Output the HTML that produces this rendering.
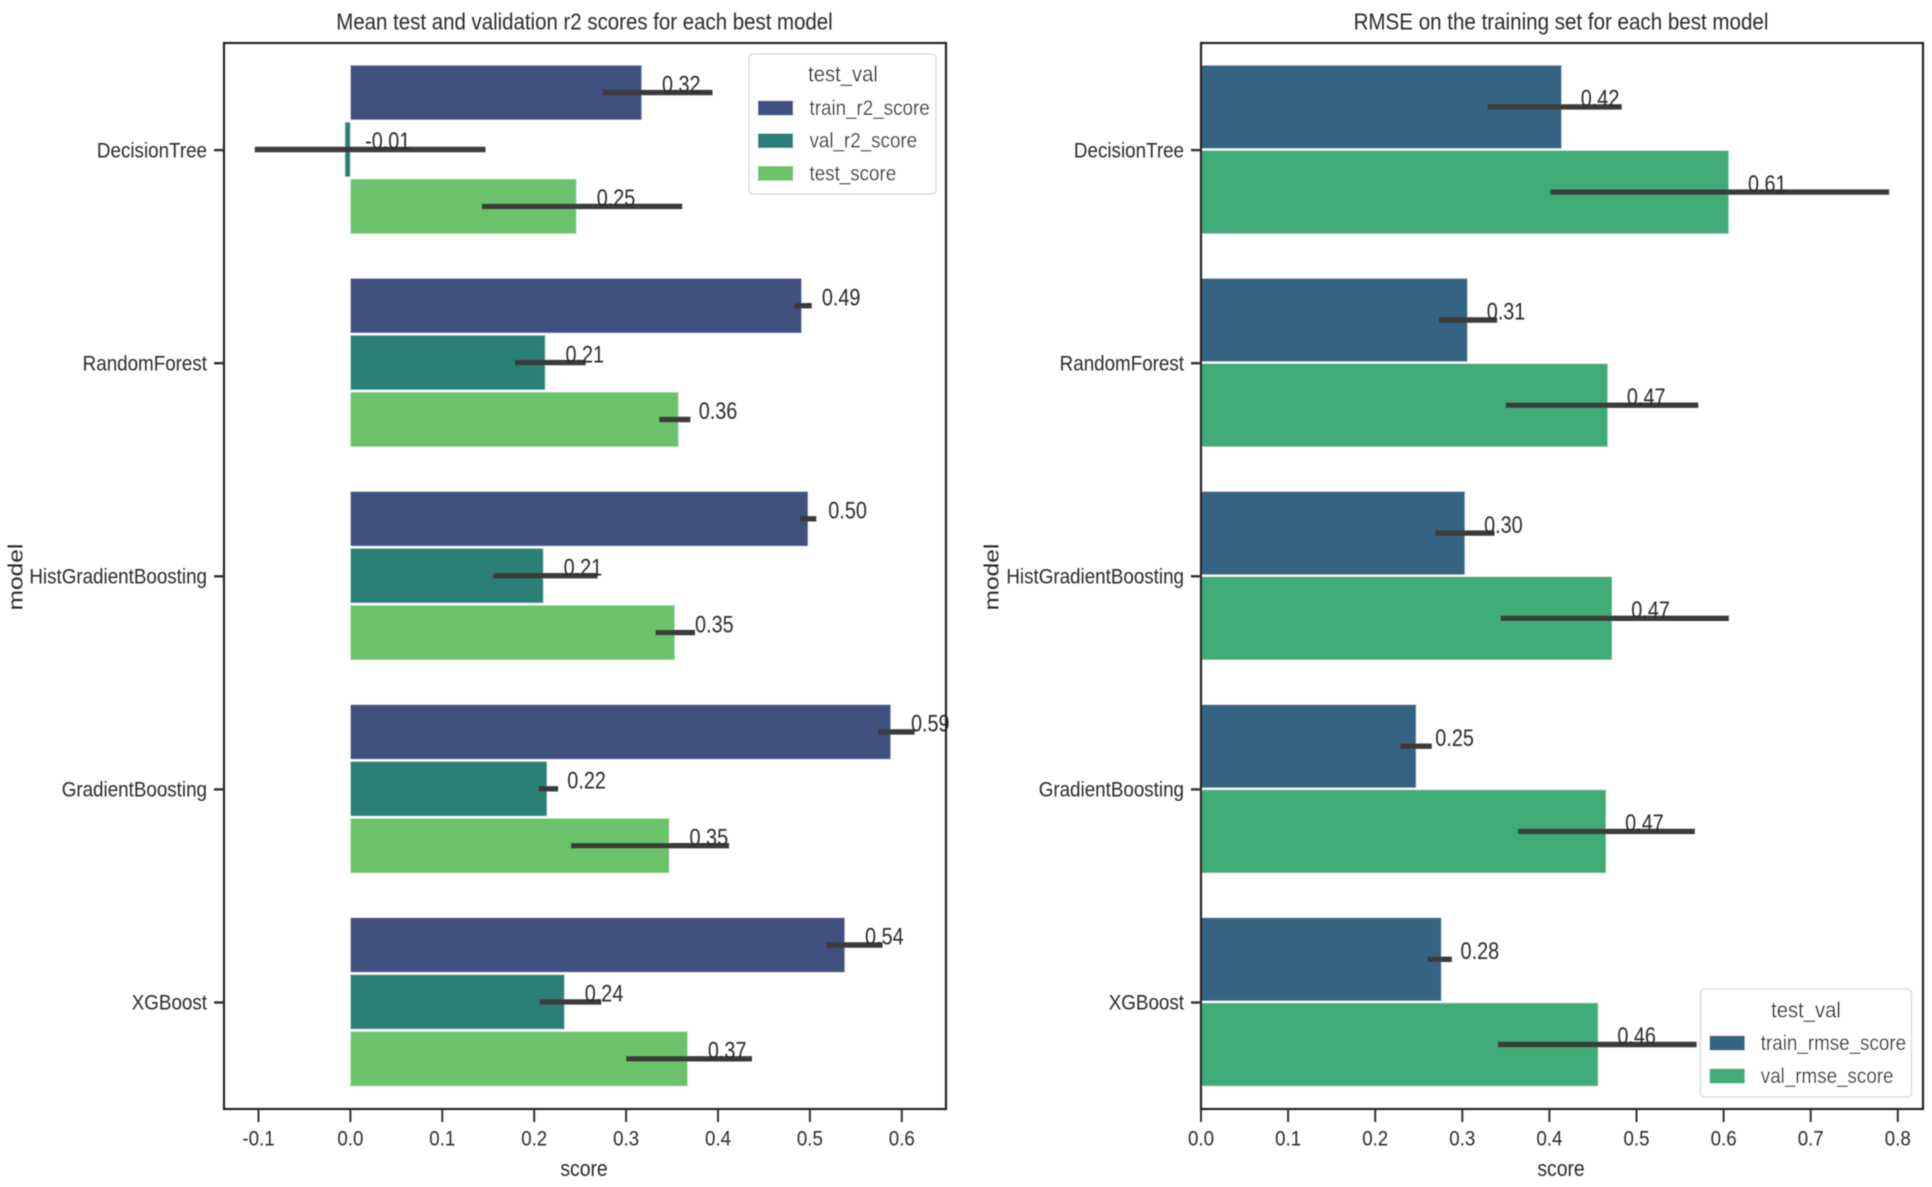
<!DOCTYPE html>
<html>
<head>
<meta charset="utf-8">
<title>Best model scores</title>
<style>
html,body{margin:0;padding:0;background:#fff;width:1932px;height:1187px;overflow:hidden}
svg{display:block}
text{font-family:"Liberation Sans",sans-serif;fill:#2b2b2b;dominant-baseline:central}
</style>
</head>
<body>
<svg id="chart" xmlns="http://www.w3.org/2000/svg" width="1932" height="1187" viewBox="0 0 1932 1187">
  <defs><filter id="soft" x="-2%" y="-2%" width="104%" height="104%"><feGaussianBlur stdDeviation="0.55"/></filter></defs>
  <g id="root" filter="url(#soft)"></g>
</svg>
<script>
// Shared categories
const models = ['DecisionTree','RandomForest','HistGradientBoosting','GradientBoosting','XGBoost'];

// Left panel: mean r2 scores
const leftXTicks = [-0.1,0,0.1,0.2,0.3,0.4,0.5,0.6];
const leftSeriesNames = ['train_r2_score','val_r2_score','test_score'];
const trainR2 = [0.317,0.491,0.498,0.588,0.538];
const valR2 = [-0.006,0.212,0.210,0.214,0.233];
const testR2 = [0.246,0.357,0.353,0.347,0.367];
const trainR2Low = [0.275,0.483,0.489,0.574,0.518];
const trainR2High = [0.394,0.502,0.507,0.614,0.579];
const valR2Low = [-0.104,0.179,0.155,0.205,0.206];
const valR2High = [0.147,0.256,0.269,0.226,0.273];
const testR2Low = [0.143,0.336,0.332,0.240,0.300];
const testR2High = [0.361,0.370,0.375,0.412,0.437];
const trainR2Labels = ['0.32','0.49','0.50','0.59','0.54'];
const valR2Labels = ['-0.01','0.21','0.21','0.22','0.24'];
const testR2Labels = ['0.25','0.36','0.35','0.35','0.37'];

// Right panel: RMSE scores
const rightXTicks = [0,0.1,0.2,0.3,0.4,0.5,0.6,0.7,0.8];
const rightSeriesNames = ['train_rmse_score','val_rmse_score'];
const trainRmse = [0.414,0.306,0.303,0.247,0.276];
const valRmse = [0.606,0.467,0.472,0.465,0.456];
const trainRmseLow = [0.329,0.273,0.269,0.229,0.260];
const trainRmseHigh = [0.483,0.340,0.337,0.265,0.288];
const valRmseLow = [0.401,0.350,0.344,0.364,0.341];
const valRmseHigh = [0.790,0.571,0.606,0.567,0.569];
const trainRmseLabels = ['0.42','0.31','0.30','0.25','0.28'];
const valRmseLabels = ['0.61','0.47','0.47','0.47','0.46'];

const root = document.getElementById('root');
const NS = 'http://www.w3.org/2000/svg';

function shape(tag, attrs, parent){
  const el = document.createElementNS(NS, tag);
  for (const k in attrs) el.setAttribute(k, attrs[k]);
  (parent || root).appendChild(el);
  return el;
}
function label(str, x, y, size, anchor, sx, rotate, parent){
  const el = document.createElementNS(NS, 'text');
  el.textContent = str;
  el.setAttribute('font-size', size);
  el.setAttribute('text-anchor', anchor);
  el.setAttribute('transform', 'translate(' + x + ' ' + y + ') scale(' + sx + ' 1)' + (rotate ? ' rotate(' + rotate + ')' : ''));
  (parent || root).appendChild(el);
  return el;
}

function drawPanel(cfg){
  const xScale = v => cfg.x0 + cfg.pxPerUnit * v;
  const yScale = i => cfg.firstCenter + cfg.groupStep * i;
  const slot = cfg.slot;
  const n = cfg.series.length;

  const panel = shape('g', {});
  
  

  // bars
  cfg.series.forEach((s, si) => {
    models.forEach((m, i) => {
      const cy = yScale(i) + (si - (n - 1) / 2) * slot;
      const xa = xScale(0), xb = xScale(s.values[i]);
      const bar = shape('rect', {
        x: Math.min(xa, xb), y: cy - cfg.barH / 2,
        width: Math.abs(xb - xa), height: cfg.barH,
        fill: s.color, stroke: '#fff', 'stroke-opacity': 0.45, 'stroke-width': 1
      }, panel);
      
      
    });
  });

  // error bars and value labels
  cfg.series.forEach((s, si) => {
    models.forEach((m, i) => {
      const cy = yScale(i) + (si - (n - 1) / 2) * slot;
      const err = shape('line', {
        x1: xScale(s.low[i]), x2: xScale(s.high[i]), y1: cy, y2: cy,
        stroke: '#3a3a3a', 'stroke-width': 5.4, 'stroke-linecap': 'butt'
      }, panel);
      
      
      const val = label(s.labels[i], xScale(s.values[i] + cfg.labelOffset), cy - 8.5, 24.5, 'start', 0.81, 0, panel);
      
      
    });
  });

  // frame
  const frame = shape('rect', {
    x: cfg.left, y: cfg.top, width: cfg.right - cfg.left, height: cfg.bottom - cfg.top,
    fill: 'none', stroke: '#222', 'stroke-width': 2.2
  }, panel);
  
  

  // x ticks
  cfg.xTicks.forEach(t => {
    const tx = xScale(t);
    const mark = shape('line', {x1: tx, x2: tx, y1: cfg.bottom, y2: cfg.bottom + 13, stroke: '#333', 'stroke-width': 2}, panel);
    
    
    const txt = label(t < 0 ? '-' + Math.abs(t).toFixed(1) : t.toFixed(1), tx, 1139, 21.5, 'middle', 0.87, 0, panel);
    
    
  });

  // y ticks
  models.forEach((m, i) => {
    const ty = yScale(i) + 0.6;
    const mark = shape('line', {x1: cfg.left - 10, x2: cfg.left, y1: ty, y2: ty, stroke: '#333', 'stroke-width': 2.4}, panel);
    
    
    const txt = label(m, cfg.left - 17, ty + 0.8, 21.5, 'end', 0.875, 0, panel);
    
    
  });

  // legend
  const lg = cfg.legend;
  const legend = shape('g', {}, panel);
  
  
  const box = shape('rect', {x: lg.x, y: lg.y, width: lg.w, height: lg.h, rx: 4, fill: '#fff', 'fill-opacity': 0.9, stroke: '#dcdcdc', 'stroke-width': 1.5}, legend);
  
  
  const lt = label('test_val', lg.titleX, lg.titleY, 22.5, 'middle', 0.9, 0, legend);
  
  
  cfg.series.forEach((s, si) => {
    const py = lg.firstY + si * lg.step;
    const patch = shape('rect', {x: lg.patchX, y: py - 7.2, width: 35, height: 14.5, fill: s.color}, legend);
    
    
    const entry = label(s.name, lg.textX, py + 0.6, 21.5, 'start', 0.875, 0, legend);
    
    
  });
}

drawPanel({
  name: 'r2-scores',
  left: 224, right: 946, top: 43, bottom: 1109,
  x0: 350.4, pxPerUnit: 919,
  firstCenter: 149.5, groupStep: 213.1,
  slot: 56.9, barH: 54.8, labelOffset: 0.022,
  xTicks: leftXTicks,
  series: [
    {name: leftSeriesNames[0], color: '#41517f', values: trainR2, low: trainR2Low, high: trainR2High, labels: trainR2Labels},
    {name: leftSeriesNames[1], color: '#2a8077', values: valR2, low: valR2Low, high: valR2High, labels: valR2Labels},
    {name: leftSeriesNames[2], color: '#6ac26b', values: testR2, low: testR2Low, high: testR2High, labels: testR2Labels}
  ],
  legend: {x: 749, y: 54, w: 187, h: 140, titleX: 843, titleY: 74, patchX: 758, textX: 809.5, firstY: 108, step: 32.7}
});

drawPanel({
  name: 'rmse',
  left: 1201, right: 1923, top: 43, bottom: 1109,
  x0: 1201, pxPerUnit: 871,
  firstCenter: 149.5, groupStep: 213.1,
  slot: 85.2, barH: 83.4, labelOffset: 0.022,
  xTicks: rightXTicks,
  series: [
    {name: rightSeriesNames[0], color: '#366382', values: trainRmse, low: trainRmseLow, high: trainRmseHigh, labels: trainRmseLabels},
    {name: rightSeriesNames[1], color: '#41ab76', values: valRmse, low: valRmseLow, high: valRmseHigh, labels: valRmseLabels}
  ],
  legend: {x: 1700.5, y: 989, w: 211, h: 108, titleX: 1806, titleY: 1010, patchX: 1709.7, textX: 1760.8, firstY: 1043, step: 33}
});

// Titles and axis titles
const leftTitle = label('Mean test and validation r2 scores for each best model', 584.5, 21.5, 23.5, 'middle', 0.87, 0);


const rightTitle = label('RMSE on the training set for each best model', 1561, 21.5, 23.5, 'middle', 0.875, 0);


const leftXTitle = label('score', 584, 1169, 22, 'middle', 0.88, 0);


const rightXTitle = label('score', 1561, 1169, 22, 'middle', 0.88, 0);


const leftYTitle = label('model', 16, 577, 24.5, 'middle', 0.82, -90);


const rightYTitle = label('model', 992, 577, 24.5, 'middle', 0.82, -90);


</script>
</body>
</html>
